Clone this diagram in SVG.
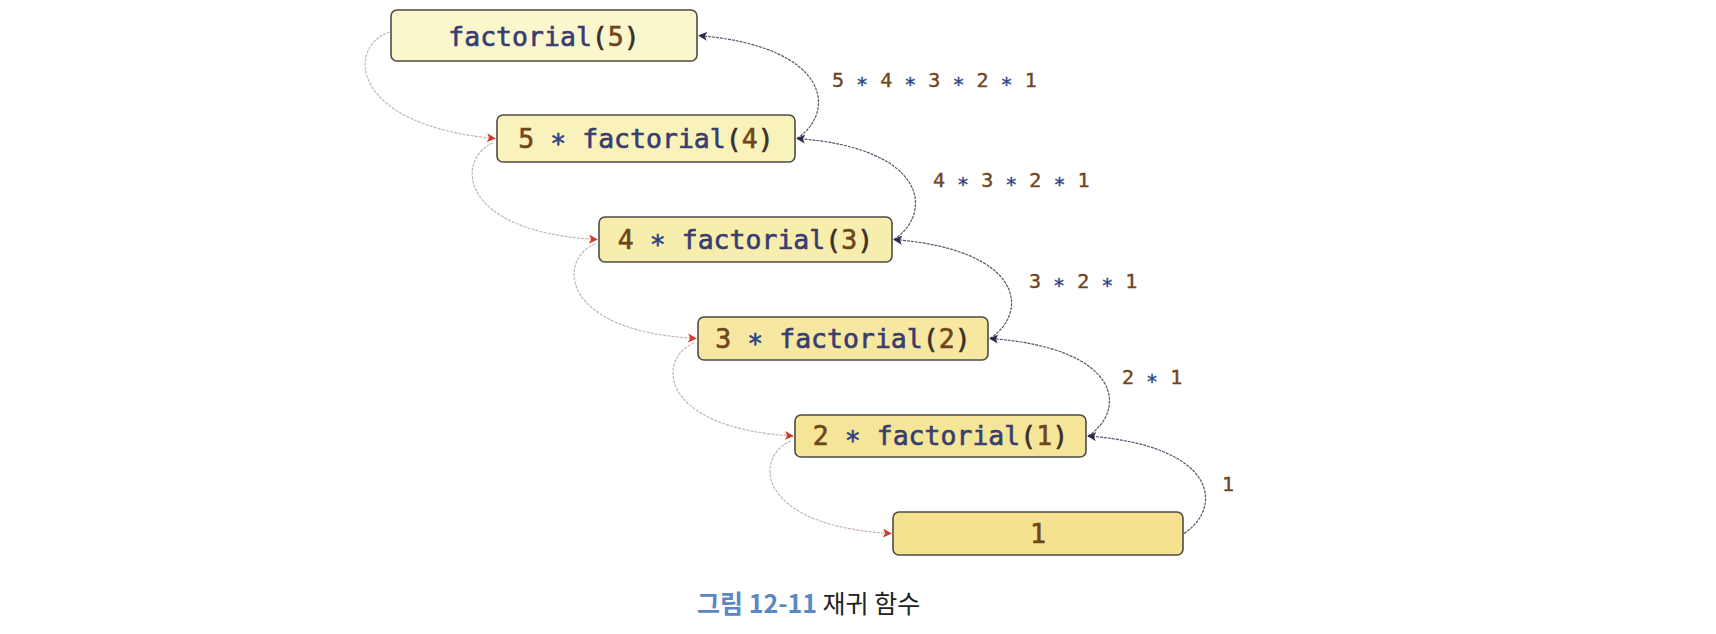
<svg xmlns="http://www.w3.org/2000/svg" width="1716" height="634" viewBox="0 0 1716 634">
<style>
  .box { stroke: #4f4a44; stroke-width: 1.6; }
  .bt { font-family: "DejaVu Sans Mono", "Liberation Mono", monospace; font-size: 26.5px; text-anchor: middle; stroke-width: 0.6; }
  .lt { font-family: "DejaVu Sans Mono", "Liberation Mono", monospace; font-size: 20px; stroke-width: 0.4; }
  .d { fill: #70451c; stroke: #70451c; }
  .f { fill: #383c70; stroke: #383c70; }
  .s { fill: #2e4585; stroke: #2e4585; }
  .p { fill: #3a2f2c; stroke: #3a2f2c; }
  .cl { fill: none; stroke: #c4b4b2; stroke-width: 1.2; stroke-dasharray: 3 1.2; }
  .cr { fill: none; stroke: #55566a; stroke-width: 1.2; stroke-dasharray: 3 1; }
  .cap { font-family: "Noto Sans CJK KR", "Noto Sans", sans-serif; font-size: 25px; }
</style>
<defs>
  <marker id="ar" viewBox="0 0 10 10" refX="9" refY="5" markerWidth="9" markerHeight="9" markerUnits="userSpaceOnUse" orient="auto">
    <path d="M0,0 L10,5 L0,10 L2.5,5 z" fill="#cf3b2c"/>
  </marker>
  <marker id="ab" viewBox="0 0 10 10" refX="9" refY="5" markerWidth="9" markerHeight="9" markerUnits="userSpaceOnUse" orient="auto">
    <path d="M0,0 L10,5 L0,10 L2.5,5 z" fill="#2a2c48"/>
  </marker>
</defs>

<g id="connectors">
  <path class="cl" d="M390,32 C347,45 347,125 495,138.5" marker-end="url(#ar)"/>
  <path class="cl" d="M493,143 C456,158 456,232 597,239.5" marker-end="url(#ar)"/>
  <path class="cl" d="M595,244 C558,259 558,331 696,338.5" marker-end="url(#ar)"/>
  <path class="cl" d="M694,343 C657,358 657,428 793,436" marker-end="url(#ar)"/>
  <path class="cl" d="M791,441 C754,456 754,526 891,533.5" marker-end="url(#ar)"/>

  <path class="cr" d="M797,138.5 C836,113 832,47 699,35.5" marker-end="url(#ab)"/>
  <path class="cr" d="M894,239.5 C933,214 929,148 797,138.5" marker-end="url(#ab)"/>
  <path class="cr" d="M990,338.5 C1029,313 1025,250 894,239.5" marker-end="url(#ab)"/>
  <path class="cr" d="M1088,436 C1127,411 1123,348 990,338.5" marker-end="url(#ab)"/>
  <path class="cr" d="M1184,533.5 C1223,508 1219,446 1088,436" marker-end="url(#ab)"/>

  <text class="lt" x="832" y="87"><tspan class="d">5 </tspan><tspan class="s" dy="4">*</tspan><tspan class="d" dy="-4"> 4 </tspan><tspan class="s" dy="4">*</tspan><tspan class="d" dy="-4"> 3 </tspan><tspan class="s" dy="4">*</tspan><tspan class="d" dy="-4"> 2 </tspan><tspan class="s" dy="4">*</tspan><tspan class="d" dy="-4"> 1</tspan></text>
  <text class="lt" x="933" y="187"><tspan class="d">4 </tspan><tspan class="s" dy="4">*</tspan><tspan class="d" dy="-4"> 3 </tspan><tspan class="s" dy="4">*</tspan><tspan class="d" dy="-4"> 2 </tspan><tspan class="s" dy="4">*</tspan><tspan class="d" dy="-4"> 1</tspan></text>
  <text class="lt" x="1029" y="288"><tspan class="d">3 </tspan><tspan class="s" dy="4">*</tspan><tspan class="d" dy="-4"> 2 </tspan><tspan class="s" dy="4">*</tspan><tspan class="d" dy="-4"> 1</tspan></text>
  <text class="lt" x="1122" y="384"><tspan class="d">2 </tspan><tspan class="s" dy="4">*</tspan><tspan class="d" dy="-4"> 1</tspan></text>
  <text class="lt" x="1222" y="491"><tspan class="d">1</tspan></text>
</g>

<g id="n5">
  <rect class="box" x="391" y="10" width="306" height="51" rx="6" fill="#fbf7cd"/>
  <text class="bt" x="544" y="46"><tspan class="f">factorial</tspan><tspan class="p">(</tspan><tspan class="d">5</tspan><tspan class="p">)</tspan></text>
</g>
<g id="n4">
  <rect class="box" x="497" y="115" width="298" height="47" rx="6" fill="#f9f2bb"/>
  <text class="bt" x="646" y="147.5"><tspan class="d">5 </tspan><tspan class="s" dy="5">*</tspan><tspan class="f" dy="-5"> factorial</tspan><tspan class="p">(</tspan><tspan class="d">4</tspan><tspan class="p">)</tspan></text>
</g>
<g id="n3">
  <rect class="box" x="599" y="217" width="293" height="45" rx="6" fill="#f7eeae"/>
  <text class="bt" x="745.5" y="248.5"><tspan class="d">4 </tspan><tspan class="s" dy="5">*</tspan><tspan class="f" dy="-5"> factorial</tspan><tspan class="p">(</tspan><tspan class="d">3</tspan><tspan class="p">)</tspan></text>
</g>
<g id="n2">
  <rect class="box" x="698" y="317" width="290" height="43" rx="6" fill="#f6e8a0"/>
  <text class="bt" x="843" y="347.5"><tspan class="d">3 </tspan><tspan class="s" dy="5">*</tspan><tspan class="f" dy="-5"> factorial</tspan><tspan class="p">(</tspan><tspan class="d">2</tspan><tspan class="p">)</tspan></text>
</g>
<g id="n1">
  <rect class="box" x="795" y="415" width="291" height="42" rx="6" fill="#f5e598"/>
  <text class="bt" x="940.5" y="445"><tspan class="d">2 </tspan><tspan class="s" dy="5">*</tspan><tspan class="f" dy="-5"> factorial</tspan><tspan class="p">(</tspan><tspan class="d">1</tspan><tspan class="p">)</tspan></text>
</g>
<g id="n0">
  <rect class="box" x="893" y="512" width="290" height="43" rx="6" fill="#f4e290"/>
  <text class="bt" x="1038" y="543"><tspan class="d">1</tspan></text>
</g>

<text class="cap" x="697" y="613"><tspan fill="#5b87c2" font-weight="bold">그림 12-11</tspan><tspan fill="#222222"> 재귀 함수</tspan></text>
</svg>
